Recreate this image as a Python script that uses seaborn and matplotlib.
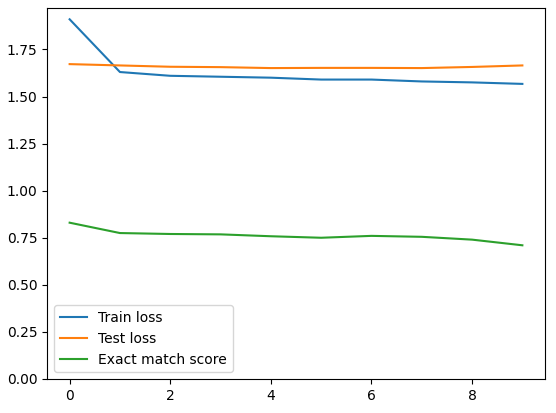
import numpy as np
import pandas as pd
import seaborn as sns
from matplotlib import pyplot as plt

epochs = list(range(10))
train_loss = [1.91, 1.63, 1.61, 1.605, 1.60, 1.59, 1.59, 1.58, 1.575, 1.567]
test_loss = [1.672, 1.665, 1.658, 1.656, 1.651, 1.652, 1.652, 1.651, 1.657, 1.665]
exact_match = [0.83, 0.775, 0.77, 0.768, 0.758, 0.75, 0.76, 0.755, 0.74, 0.71]

fig = plt.figure(figsize=(5.56, 4.13), dpi=100)
fig.subplots_adjust(left=47/556, right=545/556, top=1-8/413, bottom=1-379/413)
ax = fig.add_subplot(111)
sns.lineplot(x=epochs, y=train_loss, ax=ax, label='Train loss')
sns.lineplot(x=epochs, y=test_loss, ax=ax, label='Test loss')
sns.lineplot(x=epochs, y=exact_match, ax=ax, label='Exact match score')
ax.set_ylim(bottom=0)
ax.legend(loc='lower left')
plt.savefig('out.png')
